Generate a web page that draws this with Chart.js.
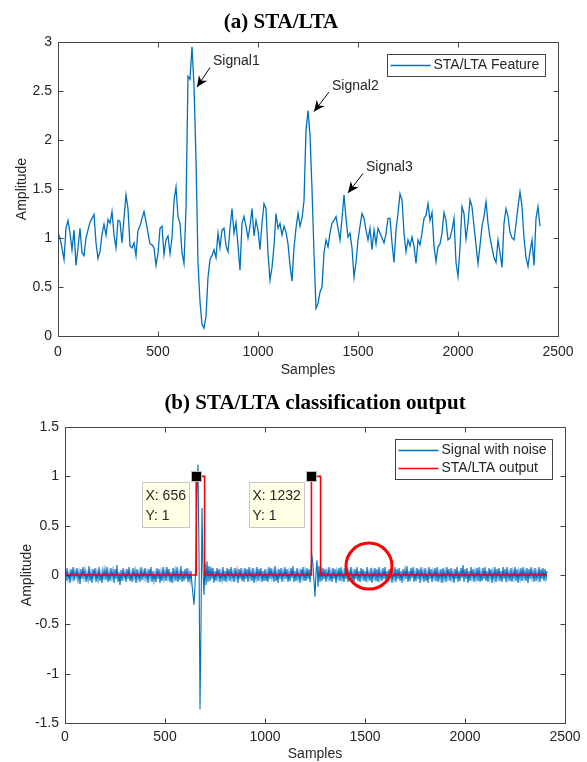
<!DOCTYPE html>
<html>
<head>
<meta charset="utf-8">
<title>STA/LTA</title>
<script src="https://cdn.jsdelivr.net/npm/chart.js@4.4.1/dist/chart.umd.min.js"></script>
<style>
  html, body { margin: 0; padding: 0; background: #fff; overflow: hidden; }
  canvas { position: absolute; left: 0; }
  #chartA { top: 0; }
  #chartB { top: 380px; }
</style>
</head>
<body>
<canvas id="chartA" width="587" height="380"></canvas>
<canvas id="chartB" width="587" height="386"></canvas>
<script>
// ---------- DATA ----------
const SAMPLE_TICKS = [0, 500, 1000, 1500, 2000, 2500];
const FEATURE_TICKS = [0, 0.5, 1, 1.5, 2, 2.5, 3];
const OUTPUT_TICKS = [-1.5, -1, -0.5, 0, 0.5, 1, 1.5];

// (a) STA/LTA feature, one value every 10 samples
const FEATURE_STEP = 10;
const featureValues = [
  1.05, 1.0, 0.9, 0.78, 1.1, 1.18, 1.05, 0.88, 1.08, 0.72,
  0.9, 1.1, 0.85, 0.82, 1.0, 1.08, 1.16, 1.2, 1.24, 0.95,
  0.79, 0.86, 1.04, 1.14, 1.03, 1.19, 1.15, 1.27, 1.03, 0.9,
  1.18, 1.17, 0.95, 1.2, 1.44, 1.3, 0.92, 0.9, 0.95, 0.82,
  1.08, 1.12, 1.2, 1.27, 1.17, 1.05, 0.94, 0.93, 0.9, 0.72,
  0.84, 1.1, 1.12, 0.83, 0.98, 1.02, 0.84, 1.0, 1.38, 1.52,
  1.22, 1.15, 0.85, 0.74, 1.3, 2.65, 2.62, 2.95, 2.55, 1.8,
  0.75, 0.35, 0.12, 0.08, 0.2, 0.6, 0.78, 0.82, 0.88, 0.8,
  1.05, 0.9, 1.08, 1.1, 0.92, 0.86, 1.1, 1.3, 1.05, 1.16,
  0.92, 0.67, 1.15, 1.22, 1.12, 1.0, 1.12, 1.3, 1.02, 1.18,
  1.08, 0.88, 1.15, 1.35, 1.3, 0.84, 0.57, 0.7, 0.92, 1.25,
  1.1, 1.15, 1.03, 1.12, 1.06, 0.94, 0.72, 0.56, 0.9, 1.1,
  1.25, 1.12, 1.2, 1.38, 2.1, 2.3, 2.05, 1.5, 0.84, 0.28,
  0.33, 0.45, 0.5, 0.85, 0.98, 0.91, 1.05, 1.15, 1.18, 1.22,
  1.1, 0.98, 1.2, 1.44, 1.2, 1.01, 1.05, 0.9, 0.6, 0.75,
  0.98, 1.12, 1.25, 1.2, 1.08, 0.98, 1.1, 0.88, 1.08, 0.94,
  1.1, 1.05, 1.0, 0.95, 1.04, 1.2, 1.2, 0.95, 0.75, 1.08,
  1.25, 1.45, 1.39, 1.05, 0.86, 0.98, 0.92, 1.01, 0.92, 0.74,
  0.98, 0.93, 1.05, 1.2, 1.23, 1.35, 1.18, 1.26, 0.92, 0.76,
  0.91, 0.94, 1.05, 1.26, 1.18, 0.98, 1.0, 1.08, 1.2, 0.75,
  0.61, 0.9, 1.32, 1.25, 0.99, 1.15, 1.39, 1.32, 1.12, 0.93,
  0.74, 0.92, 1.12, 1.22, 1.37, 1.15, 1.0, 0.9, 0.8, 0.75,
  0.98, 0.85, 0.7, 1.15, 1.3, 1.22, 1.06, 1.0, 0.98, 1.14,
  1.32, 1.47, 1.32, 1.0, 0.8, 0.71, 0.86, 0.98, 0.72, 1.2,
  1.32, 1.12
];

// (b) signal with noise, one value every 5 samples
const NOISE_STEP = 5;
const noiseValues = [
  0.04, -0.06, 0.07, -0.04, 0.02, -0.08, 0.06, -0.03, 0.08, -0.06, 0.04, -0.02, 0.07, -0.05, 0.03, -0.09, 0.06, -0.04, 0.08, -0.03,
  0.05, -0.07, 0.02, -0.05, 0.09, -0.06, 0.03, -0.08, 0.06, -0.02, 0.07, -0.07, 0.03, -0.05, 0.08, -0.06, 0.02, -0.08, 0.05, -0.03,
  0.06, -0.05, 0.08, -0.07, 0.03, -0.06, 0.07, -0.03, 0.05, -0.08, 0.06, -0.04, 0.1, -0.07, 0.03, -0.1, 0.05, -0.06, 0.07, -0.03,
  0.03, -0.07, 0.06, -0.04, 0.08, -0.06, 0.02, -0.07, 0.07, -0.03, 0.05, -0.08, 0.06, -0.04, 0.03, -0.07, 0.08, -0.05, 0.04, -0.03,
  0.07, -0.04, 0.03, -0.08, 0.06, -0.03, 0.08, -0.07, 0.04, -0.06, 0.02, -0.07, 0.07, -0.04, 0.06, -0.08, 0.03, -0.06, 0.08, -0.04,
  0.04, -0.06, 0.08, -0.03, 0.06, -0.07, 0.03, -0.08, 0.07, -0.04, 0.05, -0.06, 0.08, -0.07, 0.03, -0.05, 0.09, -0.07, 0.04, -0.06,
  0.06, -0.04, 0.07, -0.07, 0.03, -0.06, 0.04, -0.1, -0.2, -0.3, -0.12, 0.2, 0.85, 1.12, 0.2, -1.36, -0.5, 0.68, 0.05, -0.2,
  0.12, -0.1, 0.14, -0.07, 0.09, -0.06, 0.08, -0.04, 0.07, -0.08, 0.04, -0.06, 0.07, -0.03, 0.06, -0.07, 0.03, -0.05, 0.08, -0.06,
  0.04, -0.07, 0.07, -0.03, 0.06, -0.06, 0.08, -0.04, 0.03, -0.07, 0.07, -0.03, 0.05, -0.08, 0.06, -0.04, 0.07, -0.06, 0.03, -0.07,
  0.07, -0.04, 0.06, -0.07, 0.08, -0.03, 0.04, -0.06, 0.07, -0.08, 0.03, -0.04, 0.08, -0.06, 0.06, -0.03, 0.07, -0.07, 0.04, -0.06,
  0.06, -0.06, 0.03, -0.07, 0.08, -0.04, 0.07, -0.03, 0.04, -0.07, 0.09, -0.06, 0.03, -0.08, 0.06, -0.04, 0.07, -0.07, 0.04, -0.03,
  0.08, -0.04, 0.06, -0.07, 0.03, -0.06, 0.07, -0.03, 0.09, -0.07, 0.04, -0.06, 0.07, -0.04, 0.03, -0.08, 0.06, -0.03, 0.08, -0.06,
  0.04, -0.06, 0.07, -0.04, 0.06, -0.07, 0.08, 0.19, 0.1, -0.06, -0.22, 0.02, 0.15, -0.12, 0.09, -0.07, 0.08, -0.06, 0.07, -0.04,
  0.06, -0.07, 0.04, -0.03, 0.08, -0.06, 0.03, -0.07, 0.07, -0.04, 0.06, -0.08, 0.04, -0.03, 0.07, -0.06, 0.08, -0.04, 0.03, -0.07,
  0.07, -0.04, 0.06, -0.07, 0.04, -0.03, 0.08, -0.06, 0.03, -0.07, 0.06, -0.04, 0.08, -0.06, 0.04, -0.07, 0.07, -0.03, 0.06, -0.06,
  0.04, -0.07, 0.08, -0.04, 0.03, -0.06, 0.07, -0.08, 0.04, -0.03, 0.07, -0.06, 0.06, -0.07, 0.08, -0.04, 0.03, -0.06, 0.07, -0.04,
  0.08, -0.06, 0.04, -0.07, 0.06, -0.03, 0.07, -0.08, 0.03, -0.04, 0.08, -0.07, 0.06, -0.04, 0.07, -0.06, 0.04, -0.08, 0.06, -0.03,
  0.06, -0.04, 0.09, -0.07, 0.04, -0.06, 0.07, -0.03, 0.08, -0.07, 0.03, -0.06, 0.07, -0.04, 0.06, -0.08, 0.08, -0.03, 0.04, -0.07,
  0.07, -0.06, 0.03, -0.08, 0.08, -0.04, 0.06, -0.07, 0.04, -0.03, 0.07, -0.06, 0.08, -0.07, 0.03, -0.04, 0.06, -0.08, 0.07, -0.04,
  0.04, -0.07, 0.08, -0.03, 0.06, -0.06, 0.07, -0.04, 0.03, -0.08, 0.06, -0.04, 0.08, -0.07, 0.04, -0.06, 0.07, -0.03, 0.1, -0.07,
  0.06, -0.04, 0.07, -0.08, 0.04, -0.06, 0.08, -0.03, 0.06, -0.07, 0.04, -0.04, 0.07, -0.06, 0.08, -0.07, 0.03, -0.06, 0.07, -0.04,
  0.08, -0.06, 0.04, -0.07, 0.07, -0.03, 0.06, -0.08, 0.04, -0.04, 0.08, -0.07, 0.06, -0.03, 0.07, -0.06, 0.04, -0.07, 0.08, -0.04,
  0.06, -0.07, 0.08, -0.04, 0.03, -0.06, 0.07, -0.07, 0.04, -0.03, 0.08, -0.06, 0.06, -0.08, 0.04, -0.04, 0.07, -0.06, 0.08, -0.03,
  0.04, -0.06, 0.07, -0.08, 0.06, -0.04, 0.08, -0.03, 0.04, -0.07, 0.07, -0.06, 0.03, -0.04, 0.08, -0.07, 0.06, -0.04, 0.07, -0.06,
  0.06, -0.04, 0.04
];

// (b) STA/LTA output (step function)
const outputX = [0, 656, 656, 698, 698, 1232, 1232, 1278, 1278, 2410];
const outputY = [0, 0, 1, 1, 0, 0, 1, 1, 0, 0];

// annotations
const arrowLabels = ['Signal1', 'Signal2', 'Signal3'];
const arrowLabelX = [775, 1370, 1540];
const arrowLabelY = [2.8, 2.55, 1.72];
const arrowTipX = [695, 1280, 1450];
const arrowTipY = [2.54, 2.29, 1.46];

const dataTipX = [656, 1232];
const dataTipY = [1, 1];

const circleX = 1520;
const circleY = 0.09;
const circleR = 115; // in samples

// ---------- STYLE ----------
const AXIS_COLOR = '#444';
const TEXT_COLOR = '#262626';
const SANS = '"Liberation Sans", Arial, sans-serif';
const SERIF = '"Liberation Serif", "Times New Roman", serif';
const BLUE = '#0072BD';
const RED = '#FF0000';

// ---------- PLUGINS ----------
function panelTitle(text, cx, cy) {
  return {
    id: 'panelTitle',
    afterDraw(chart) {
      const ctx = chart.ctx;
      ctx.save();
      ctx.font = 'bold 21px ' + SERIF;
      ctx.fillStyle = '#000';
      ctx.textAlign = 'center';
      ctx.textBaseline = 'middle';
      ctx.fillText(text, cx, cy);
      ctx.restore();
    }
  };
}

// box around axes + inward ticks on every side
const matlabBox = {
  id: 'matlabBox',
  afterDatasetsDraw(chart) {
    const { ctx, chartArea: a, scales: { x, y } } = chart;
    const L = Math.round(a.left) + 0.5, R = Math.round(a.right) + 0.5;
    const T = Math.round(a.top) + 0.5, B = Math.round(a.bottom) + 0.5;
    const len = 5;
    ctx.save();
    ctx.strokeStyle = AXIS_COLOR;
    ctx.lineWidth = 1;
    ctx.strokeRect(L, T, R - L, B - T);
    ctx.beginPath();
    x.ticks.forEach(t => {
      const px = Math.round(x.getPixelForValue(t.value)) + 0.5;
      ctx.moveTo(px, B); ctx.lineTo(px, B - len);
      ctx.moveTo(px, T); ctx.lineTo(px, T + len);
    });
    y.ticks.forEach(t => {
      const py = Math.round(y.getPixelForValue(t.value)) + 0.5;
      ctx.moveTo(L, py); ctx.lineTo(L + len, py);
      ctx.moveTo(R, py); ctx.lineTo(R - len, py);
    });
    ctx.stroke();
    ctx.restore();
  }
};

// legend inside the top right corner
const insideLegend = {
  id: 'insideLegend',
  afterDraw(chart) {
    const { ctx, chartArea: a } = chart;
    const sets = chart.data.datasets;
    ctx.save();
    ctx.font = '14px ' + SANS;
    const textW = Math.max(...sets.map(d => ctx.measureText(d.label).width));
    const w = Math.round(3 + 40 + 3 + textW + 6);
    const h = sets.length * 18 + 4;
    const left = Math.round(a.right - 13 - w) + 0.5;
    const top = Math.round(a.top + 12) + 0.5;
    ctx.fillStyle = '#fff';
    ctx.fillRect(left, top, w, h);
    ctx.strokeStyle = AXIS_COLOR;
    ctx.lineWidth = 1;
    ctx.strokeRect(left, top, w, h);
    sets.forEach((d, i) => {
      const cy = top + 11 + 18 * i;
      ctx.strokeStyle = d.borderColor;
      ctx.lineWidth = 1.5;
      ctx.beginPath();
      ctx.moveTo(left + 3, cy);
      ctx.lineTo(left + 43, cy);
      ctx.stroke();
      ctx.fillStyle = TEXT_COLOR;
      ctx.textAlign = 'left';
      ctx.textBaseline = 'middle';
      ctx.fillText(d.label, left + 46, cy);
    });
    ctx.restore();
  }
};

const signalArrows = {
  id: 'signalArrows',
  afterDatasetsDraw(chart) {
    const { ctx, scales: { x, y } } = chart;
    ctx.save();
    ctx.font = '14px ' + SANS;
    ctx.textAlign = 'left';
    ctx.textBaseline = 'middle';
    arrowLabels.forEach((label, i) => {
      const lx = x.getPixelForValue(arrowLabelX[i]);
      const ly = y.getPixelForValue(arrowLabelY[i]);
      ctx.fillStyle = TEXT_COLOR;
      ctx.fillText(label, lx, ly);

      const sx = lx - 3, sy = ly + 6;
      const tx = x.getPixelForValue(arrowTipX[i]);
      const ty = y.getPixelForValue(arrowTipY[i]);
      ctx.strokeStyle = '#000';
      ctx.lineWidth = 1;
      ctx.beginPath();
      ctx.moveTo(sx, sy);
      ctx.lineTo(tx, ty);
      ctx.stroke();

      const ang = Math.atan2(ty - sy, tx - sx);
      const c = Math.cos(ang), s = Math.sin(ang);
      const hl = 11, hw = 5;
      ctx.fillStyle = '#000';
      ctx.beginPath();
      ctx.moveTo(tx, ty);
      ctx.lineTo(tx - hl * c + hw * s, ty - hl * s - hw * c);
      ctx.lineTo(tx - hl * 0.7 * c, ty - hl * 0.7 * s);
      ctx.lineTo(tx - hl * c - hw * s, ty - hl * s + hw * c);
      ctx.closePath();
      ctx.fill();
    });
    ctx.restore();
  }
};

const dataTips = {
  id: 'dataTips',
  afterDraw(chart) {
    const { ctx, scales: { x, y } } = chart;
    ctx.save();
    // red circle
    const cx = x.getPixelForValue(circleX);
    const cy = y.getPixelForValue(circleY);
    const r = x.getPixelForValue(circleX + circleR) - cx;
    ctx.strokeStyle = RED;
    ctx.lineWidth = 3;
    ctx.beginPath();
    ctx.arc(cx, cy, r, 0, Math.PI * 2);
    ctx.stroke();

    ctx.font = '14px ' + SANS;
    dataTipX.forEach((v, i) => {
      const px = Math.round(x.getPixelForValue(v));
      const py = Math.round(y.getPixelForValue(dataTipY[i]));
      // marker
      ctx.fillStyle = '#000';
      ctx.fillRect(px - 4, py - 4, 9, 9);
      ctx.strokeStyle = '#bbb';
      ctx.lineWidth = 1;
      ctx.strokeRect(px - 4.5, py - 4.5, 10, 10);
      // box
      const lines = ['X: ' + v, 'Y: ' + dataTipY[i]];
      const tw = Math.max(...lines.map(t => ctx.measureText(t).width));
      const w = Math.round(tw + 7);
      const right = px - 7;
      const left = right - w + 0.5;
      const top = py + 6 + 0.5;
      ctx.fillStyle = '#FFFFE6';
      ctx.fillRect(left, top, w, 45);
      ctx.strokeStyle = '#C8C8C8';
      ctx.strokeRect(left, top, w, 45);
      ctx.fillStyle = TEXT_COLOR;
      ctx.textAlign = 'left';
      ctx.textBaseline = 'middle';
      ctx.fillText(lines[0], left + 3, top + 14);
      ctx.fillText(lines[1], left + 3, top + 34);
    });
    ctx.restore();
  }
};

// ---------- CHARTS ----------
function axes(yTicks, yMin, yMax, yWidth, xHeight, titleOffX, titleOffY, labelPad) {
  const tickFont = { family: SANS, size: 14 };
  return {
    x: {
      type: 'linear', min: 0, max: 2500,
      afterBuildTicks: s => { s.ticks = SAMPLE_TICKS.map(v => ({ value: v })); },
      afterFit: s => { s.height = xHeight; },
      ticks: { font: tickFont, color: TEXT_COLOR, padding: labelPad, maxRotation: 0, autoSkip: false, callback: v => String(v) },
      grid: { display: false, drawTicks: false },
      border: { display: false },
      title: { display: true, text: 'Samples', font: tickFont, color: TEXT_COLOR, padding: { top: 0, bottom: titleOffX } }
    },
    y: {
      type: 'linear', min: yMin, max: yMax,
      afterBuildTicks: s => { s.ticks = yTicks.map(v => ({ value: v })); },
      afterFit: s => { s.width = yWidth; },
      ticks: { font: tickFont, color: TEXT_COLOR, padding: 6, autoSkip: false, callback: v => String(v) },
      grid: { display: false, drawTicks: false },
      border: { display: false },
      title: { display: true, text: 'Amplitude', font: tickFont, color: TEXT_COLOR, padding: { top: titleOffY, bottom: 0 } }
    }
  };
}

const common = {
  responsive: false,
  animation: false,
  events: [],
  plugins: { legend: { display: false }, tooltip: { enabled: false } },
  elements: { point: { radius: 0 }, line: { tension: 0 } }
};

new Chart(document.getElementById('chartA'), {
  type: 'line',
  data: {
    datasets: [{
      label: 'STA/LTA Feature',
      data: featureValues.map((v, i) => ({ x: i * FEATURE_STEP, y: v })),
      borderColor: BLUE,
      borderWidth: 1.3,
      fill: false
    }]
  },
  options: Object.assign({}, common, {
    layout: { padding: { top: 42, right: 29, left: 0, bottom: 0 } },
    scales: axes(FEATURE_TICKS, 0, 3, 58, 44, 1, 14, 8)
  }),
  plugins: [matlabBox, signalArrows, insideLegend, panelTitle('(a) STA/LTA', 281, 23)]
});

new Chart(document.getElementById('chartB'), {
  type: 'line',
  data: {
    datasets: [
      {
        label: 'Signal with noise',
        data: noiseValues.map((v, i) => ({ x: i * NOISE_STEP, y: v })),
        borderColor: BLUE,
        borderWidth: 1.1,
        fill: false,
        order: 2
      },
      {
        label: 'STA/LTA output',
        data: outputX.map((v, i) => ({ x: v, y: outputY[i] })),
        borderColor: RED,
        borderWidth: 1.6,
        fill: false,
        order: 1
      }
    ]
  },
  options: Object.assign({}, common, {
    layout: { padding: { top: 47, right: 22, left: 0, bottom: 0 } },
    scales: axes(OUTPUT_TICKS, -1.5, 1.5, 65, 43, 3, 19, 6)
  }),
  plugins: [matlabBox, dataTips, insideLegend, panelTitle('(b) STA/LTA classification output', 315, 24)]
});
</script>
</body>
</html>
